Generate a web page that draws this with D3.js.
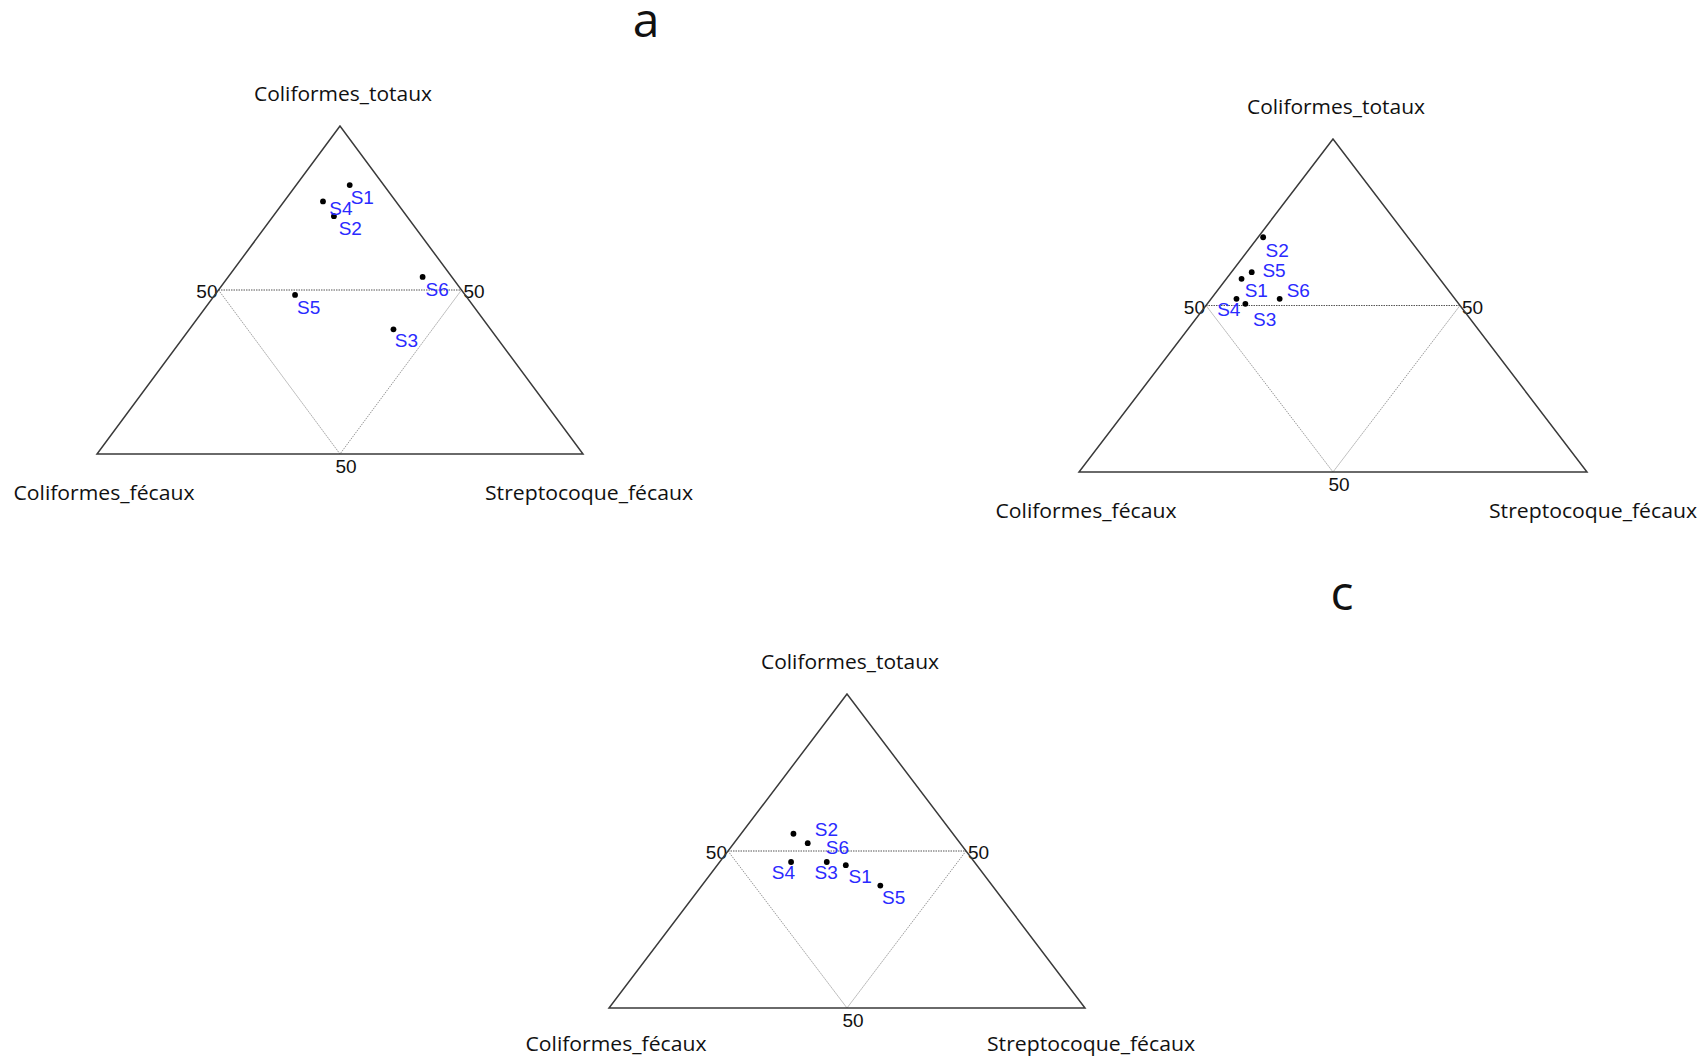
<!DOCTYPE html>
<html>
<head>
<meta charset="utf-8">
<script src="https://cdn.jsdelivr.net/npm/d3@7"></script>
<style>
  html, body { margin: 0; padding: 0; background: #fff; }
  svg { display: block; }
</style>
</head>
<body>
<script>
// Ternary composition of bacterial indicators (%), one triangle per campaign
const samples = ["S1", "S2", "S3", "S4", "S5", "S6"];
const axisNames = ["Coliformes_totaux", "Coliformes_fécaux", "Streptocoque_fécaux"];
const tickValues = [50];
const tickLabels = ["50"];
const panelTitles = ["a", null, "c"];

// Campaign a
const totauxA  = [82, 72.5, 38, 77, 48.5, 54];
const fecauxA  = [7, 15, 20, 15, 35, 6];
const streptoA = [11, 12.5, 42, 8, 16.5, 40];

// Campaign b
const totauxB  = [58, 70.5, 50.5, 52, 60, 52];
const fecauxB  = [39, 28.5, 42, 43, 36, 34.5];
const streptoB = [3, 1, 7.5, 5, 4, 13.5];

// Campaign c
const totauxC  = [45.5, 55.5, 46.5, 46.5, 39, 52.5];
const fecauxC  = [27.5, 33.5, 31, 38.5, 23.5, 32];
const streptoC = [27, 11, 22.5, 15, 37.5, 15.5];

const W = 1704, H = 1058;

// Frame of each triangle on the page (apex y, base y, left and right base x)
const frames = [
  { top: 126, base: 454, left: 97,  right: 583,  nameDrop: 46, title: [646, 37] },
  { top: 139, base: 472, left: 1079, right: 1587, nameDrop: 46, title: null },
  { top: 694, base: 1008, left: 609, right: 1085, nameDrop: 43, title: [1342, 610] }
];

// Label nudges (centre of text relative to the point), per panel in sample order
const labelNudges = [
  [[12.6, 11.7], [16.4, 11.4], [13, 11], [18, 7], [13.6, 11.7], [14.6, 12]],
  [[14.7, 11], [14, 12.7], [19.3, 15.6], [-7.7, 10], [22.3, -2.3], [18.6, -9.3]],
  [[14.3, 11.3], [33, -4.4], [-0.6, 10.4], [-7.6, 10.4], [13.3, 11.3], [29.7, 3.4]]
];

const panels = [
  { t: totauxA, f: fecauxA, s: streptoA },
  { t: totauxB, f: fecauxB, s: streptoB },
  { t: totauxC, f: fecauxC, s: streptoC }
];

const svg = d3.select("body").append("svg")
  .attr("width", W).attr("height", H)
  .attr("viewBox", `0 0 ${W} ${H}`);

const nameFont = "'Open Sans', 'Noto Sans', sans-serif";
const numFont = "'Liberation Sans', Arial, sans-serif";
const nameLengths = [178, 181, 208];

panels.forEach((p, pi) => {
  const fr = frames[pi];
  // vertical position from the Coliformes_totaux share
  const yScale = d3.scaleLinear().domain([0, 100]).range([fr.base, fr.top]);
  // horizontal position from Streptocoque share + half the totaux share
  const xScale = d3.scaleLinear().domain([0, 100]).range([fr.left, fr.right]);
  const project = (t, f, s) => {
    const sum = t + f + s;
    const tn = 100 * t / sum, sn = 100 * s / sum;
    return [xScale(sn + tn / 2), yScale(tn)];
  };

  const g = svg.append("g");

  const A = project(100, 0, 0), L = project(0, 100, 0), R = project(0, 0, 100);

  // inner reference triangle joining the 50 % marks
  tickValues.forEach((v, ti) => {
    const mL = project(v, 100 - v, 0);
    const mR = project(v, 0, 100 - v);
    const mB = project(0, v, 100 - v);
    g.append("path")
      .attr("d", d3.line()([mL, mR]))
      .attr("fill", "none").attr("stroke", "#555")
      .attr("stroke-width", 1).attr("stroke-dasharray", "1.5,1");
    g.append("path")
      .attr("d", d3.line()([mL, mB, mR]))
      .attr("fill", "none").attr("stroke", "#999")
      .attr("stroke-width", 1).attr("stroke-dasharray", "1.5,1");

    const lab = tickLabels[ti];
    g.append("text").attr("x", mL[0] - 1).attr("y", mL[1] + 8)
      .attr("text-anchor", "end").attr("font-family", numFont)
      .attr("font-size", 19).attr("fill", "#111").text(lab);
    g.append("text").attr("x", mR[0] + 2).attr("y", mR[1] + 8)
      .attr("text-anchor", "start").attr("font-family", numFont)
      .attr("font-size", 19).attr("fill", "#111").text(lab);
    g.append("text").attr("x", mB[0] + 6).attr("y", mB[1] + 19)
      .attr("text-anchor", "middle").attr("font-family", numFont)
      .attr("font-size", 19).attr("fill", "#111").text(lab);
  });

  // outer triangle
  g.append("path")
    .attr("d", d3.line()([A, L, R]) + "Z")
    .attr("fill", "none").attr("stroke", "#3a3a3a").attr("stroke-width", 1.5);

  // vertex names
  const nameSpots = [[A[0] + 3, A[1] - 25], [L[0] + 7, L[1] + fr.nameDrop], [R[0] + 6, R[1] + fr.nameDrop]];
  axisNames.forEach((nm, i) => {
    g.append("text")
      .attr("x", nameSpots[i][0]).attr("y", nameSpots[i][1])
      .attr("text-anchor", "middle")
      .attr("font-family", nameFont).attr("font-size", 20)
      .attr("textLength", nameLengths[i]).attr("lengthAdjust", "spacingAndGlyphs")
      .attr("fill", "#111").text(nm);
  });

  // sample points and their labels
  samples.forEach((sname, i) => {
    const pt = project(p.t[i], p.f[i], p.s[i]);
    g.append("circle")
      .attr("cx", pt[0]).attr("cy", pt[1]).attr("r", 2.9)
      .attr("fill", "#000");
    const nd = labelNudges[pi][i];
    g.append("text")
      .attr("x", pt[0] + nd[0]).attr("y", pt[1] + nd[1] + 7)
      .attr("text-anchor", "middle")
      .attr("font-family", numFont).attr("font-size", 19)
      .attr("fill", "#2a2aff").text(sname);
  });

  if (panelTitles[pi] && fr.title) {
    svg.append("text")
      .attr("x", fr.title[0]).attr("y", fr.title[1])
      .attr("text-anchor", "middle")
      .attr("font-family", nameFont).attr("font-size", 48)
      .attr("fill", "#111").text(panelTitles[pi]);
  }
});
</script>
</body>
</html>
